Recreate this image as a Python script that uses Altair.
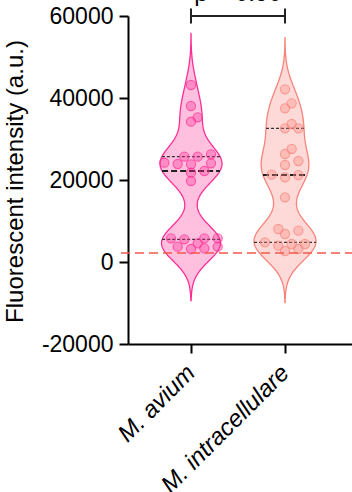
import numpy as np
import pandas as pd
import altair as alt

# ---------------- data ----------------
groups = ["M. avium", "M. intracellulare"]
avium = [43170, 38050, 35290, 34220, 26270, 25690, 25690, 24220, 24070, 23900,
         23830, 22200, 21780, 19760, 5770, 5770, 5770, 5530, 4550, 3740, 3740,
         3330, 3170]
intracellulare = [42120, 38700, 37480, 33660, 32600, 32600, 27560, 26340, 24630,
                  23660, 21300, 21200, 20660, 15780, 8050, 7640, 6830, 4800, 4390,
                  4390, 3980, 3170, 2680]
threshold = 2200
p_label = "p = 0.90"
y_ticks = [-20000, 0, 20000, 40000, 60000]
y_title = "Fluorescent intensity (a.u.)"

# ---------------- styling ----------------
strokes = ["#FF2D95", "#F8837A"]
FONT = "Liberation Sans"
W, H = 224, 328
x_dom = [1 - 63 / 94, 1 + 161 / 94]
y_dom = [-20000, 60000]
bw = 4200          # KDE bandwidth
half_w = 31 / 94   # max half width of violin (x units)

series = [avium, intracellulare]

px_per_y = H / (y_dom[1] - y_dom[0])
px_per_x = W / (x_dom[1] - x_dom[0])


def kde(vals, grid):
    v = np.asarray(vals, float)
    return np.exp(-0.5 * ((grid[:, None] - v[None, :]) / bw) ** 2).sum(axis=1)


def swarm(vals, step=6.67, dmin=7.8):
    ypx = [v * px_per_y for v in vals]
    order = np.argsort(vals)
    placed = []
    offs = [0.0] * len(vals)
    cands = [0]
    for k in range(1, 12):
        cands += [k, -k]
    for i in order:
        y = ypx[i]
        for k in cands:
            x = k * step
            if all((x - a) ** 2 + (y - b) ** 2 >= dmin ** 2 for a, b in placed):
                break
        placed.append((x, y))
        offs[i] = x / px_per_x
    return offs


xscale = alt.Scale(domain=x_dom, nice=False, zero=False)
yscale = alt.Scale(domain=y_dom, nice=False, zero=False)

label_expr = "datum.value == 1 ? '%s' : '%s'" % (groups[0], groups[1])

x_axis = alt.Axis(values=[1, 2], labelExpr=label_expr, labelAngle=-45,
                  labelFontStyle="italic", labelFontSize=24, labelFont=FONT,
                  labelColor="black", labelAlign="right", labelBaseline="middle",
                  labelPadding=16, tickSize=9, tickWidth=2, tickColor="black",
                  domainColor="black", domainWidth=2, grid=False, title=None,
                  labelOverlap=False)
y_axis = alt.Axis(values=y_ticks, labelExpr="'' + datum.value", labelFontSize=23,
                  labelFont=FONT, labelColor="black", labelPadding=6, tickSize=9,
                  tickWidth=2, tickColor="black", domainColor="black",
                  domainWidth=2, grid=False, title=y_title, titleFont=FONT,
                  titleFontSize=24, titleFontWeight="normal", titleColor="black",
                  titleAngle=270, titleX=-106, titleY=165, titleAlign="center",
                  titleBaseline="alphabetic")

layers = []
for gi, (g, vals) in enumerate(zip(groups, series)):
    idx = gi + 1
    col = strokes[gi]
    v = np.asarray(vals, float)
    grid = np.linspace(v.min() - 3 * bw, v.max() + 3 * bw, 300)
    dens = kde(v, grid)
    mx = dens.max()
    vdf = pd.DataFrame({"v": grid,
                        "left": idx - dens / mx * half_w,
                        "right": idx + dens / mx * half_w})
    offs = swarm(vals)
    pdf = pd.DataFrame({"v": vals, "x": [idx + o for o in offs]})
    qrows = []
    for q, kind in [(25, "quartile"), (50, "median"), (75, "quartile")]:
        qv = float(np.percentile(v, q, method="weibull"))
        w = kde(v, np.array([qv]))[0] / mx * half_w
        qrows.append({"v": qv, "left": idx - w, "right": idx + w, "kind": kind})
    qdf = pd.DataFrame(qrows)

    violin = alt.Chart(vdf).mark_area(
        orient="horizontal", color=col, fillOpacity=0.3, stroke=col,
        strokeWidth=1.3).encode(
        y=alt.Y("v:Q", scale=yscale, axis=y_axis),
        x=alt.X("left:Q", scale=xscale, axis=x_axis),
        x2="right:Q",
    )
    quart = alt.Chart(qdf).transform_filter("datum.kind == 'quartile'").mark_rule(
        color="#333333", strokeWidth=1.2, strokeDash=[3, 2]).encode(
        y="v:Q", x="left:Q", x2="right:Q")
    median = alt.Chart(qdf).transform_filter("datum.kind == 'median'").mark_rule(
        color="#222222", strokeWidth=2, strokeDash=[6, 3]).encode(
        y="v:Q", x="left:Q", x2="right:Q")
    dots = alt.Chart(pdf).mark_circle(
        size=85, color=col, fillOpacity=0.35, stroke=col, strokeOpacity=0.7,
        strokeWidth=1.1).encode(y="v:Q", x="x:Q")
    layers += [violin, quart, median, dots]

thr = alt.Chart(pd.DataFrame({"t": [threshold]})).mark_rule(
    color="#F25A4A", strokeWidth=1.5, strokeDash=[9, 5]).encode(
    y="t:Q", x=alt.value(-7), x2=alt.value(W))

brk = pd.DataFrame({"x": [1.0], "x2": [2.0], "y": [60000]})
bracket = alt.Chart(brk).mark_rule(color="#222222", strokeWidth=2).encode(
    y="y:Q", x="x:Q", x2="x2:Q")
ends = alt.Chart(pd.DataFrame({"x": [1.0, 2.0], "y": [58200] * 2, "y2": [61800] * 2})
                 ).mark_rule(color="#222222", strokeWidth=2).encode(
    x="x:Q", y="y:Q", y2="y2:Q")
ptext = alt.Chart(pd.DataFrame({"x": [1.5], "y": [63660], "t": [p_label]})).mark_text(
    fontSize=24, font=FONT, baseline="alphabetic", align="center", color="black"
).encode(x="x:Q", y="y:Q", text="t:N")

chart = alt.layer(*layers, thr, bracket, ends, ptext).properties(
    width=W, height=H,
    autosize=alt.AutoSizeParams(type="none"),
    padding={"left": 128, "top": 16, "right": 0, "bottom": 148},
    background="white",
).configure_view(stroke=None)

chart.save("out.html", embed_options={"renderer": "svg", "actions": False})
